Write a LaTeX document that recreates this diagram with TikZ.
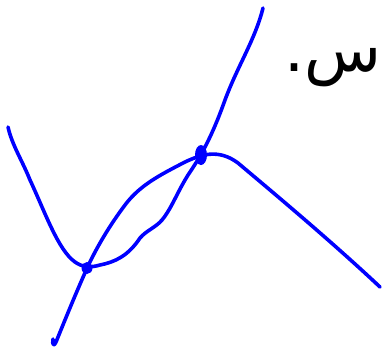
\documentclass[tikz,border=0pt]{standalone}
\usepackage{fontspec}
\TeXXeTstate=1
\newfontfamily\arabicfont[Script=Arabic]{DejaVu Sans}
\begin{document}
\begin{tikzpicture}[x=1pt,y=-1pt,
  curve/.style={draw=blue, line width=3.6pt, line cap=round, line join=round},
  dotmark/.style={fill=blue, draw=none}]
\useasboundingbox (0,0) rectangle (385,354);
\clip (0,0) rectangle (385,354);
% curve through left, lower wavy, then up
\draw[curve] (8,127) .. controls (12,145) and (22,160) .. (30,180)
  .. controls (45,212) and (58,250) .. (75,262)
  .. controls (82,267) and (90,268) .. (100,265)
  .. controls (115,262) and (128,256) .. (140,238)
  .. controls (147,230) and (155,228) .. (162,220)
  .. controls (172,208) and (178,190) .. (190,172)
  .. controls (205,150) and (215,128) .. (225,100)
  .. controls (238,65) and (255,40) .. (263,8);
% line from bottom, upper curve, then peak and down-right
\draw[curve] (53,339) .. controls (52,345) and (54,347) .. (56,342)
  .. controls (65,320) and (75,295) .. (88,266)
  .. controls (98,245) and (110,225) .. (125,205)
  .. controls (140,185) and (160,175) .. (185,162)
  .. controls (200,155) and (218,148) .. (238,163)
  .. controls (270,190) and (330,240) .. (380,287);
% intersection dots
\fill[dotmark] (87,268) ellipse [x radius=5.5, y radius=6];
\fill[dotmark] (201,155) ellipse [x radius=6, y radius=10];
% text
\node[anchor=base west, inner sep=0pt, text=black] (txt) at (284,71)
  {\fontsize{63}{70}\selectfont\arabicfont\beginR س.\endR};
\end{tikzpicture}
\end{document}
